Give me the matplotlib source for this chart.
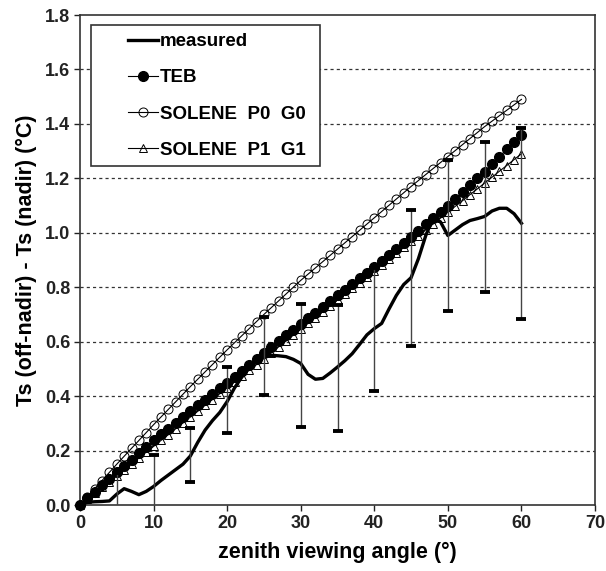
import matplotlib
matplotlib.use("Agg")
import matplotlib.pyplot as plt
from matplotlib.patches import Rectangle
import numpy as np

plt.rcParams['font.family'] = ['Liberation Sans', 'DejaVu Sans']
plt.rcParams['font.weight'] = 'bold'

angles = list(range(0, 61))

measured = [0.0, 0.01, 0.012, 0.013, 0.015, 0.04, 0.06, 0.05, 0.038, 0.05,
            0.068, 0.09, 0.11, 0.13, 0.15, 0.18, 0.23, 0.275, 0.31, 0.34,
            0.38, 0.43, 0.47, 0.505, 0.53, 0.545, 0.55, 0.548, 0.545, 0.535,
            0.52, 0.48, 0.462, 0.465, 0.485, 0.507, 0.53, 0.556, 0.59, 0.625,
            0.648, 0.667, 0.72, 0.77, 0.81, 0.835, 0.905, 0.99, 1.055, 1.04,
            0.99, 1.01, 1.03, 1.045, 1.052, 1.06, 1.08, 1.09, 1.09, 1.07,
            1.035]

teb = [0.0, 0.024, 0.048, 0.072, 0.096, 0.12, 0.143, 0.167, 0.19, 0.214,
       0.237, 0.259, 0.28, 0.302, 0.323, 0.345, 0.366, 0.387, 0.408, 0.429,
       0.45, 0.472, 0.494, 0.516, 0.538, 0.56, 0.581, 0.602, 0.623, 0.644,
       0.665, 0.686, 0.707, 0.728, 0.749, 0.77, 0.791, 0.812, 0.833, 0.854,
       0.875, 0.897, 0.919, 0.941, 0.963, 0.985, 1.008, 1.031, 1.054, 1.077,
       1.10, 1.125, 1.15, 1.175, 1.20, 1.225, 1.252, 1.279, 1.306, 1.333,
       1.36]

solene_p0 = [0.0, 0.03, 0.06, 0.09, 0.12, 0.15, 0.179, 0.208, 0.237, 0.266,
             0.295, 0.323, 0.351, 0.379, 0.407, 0.435, 0.462, 0.489, 0.516, 0.543,
             0.57, 0.596, 0.622, 0.648, 0.674, 0.70, 0.725, 0.75, 0.775, 0.80,
             0.825, 0.848, 0.871, 0.894, 0.917, 0.94, 0.963, 0.986, 1.009, 1.032,
             1.055, 1.078, 1.101, 1.124, 1.147, 1.17, 1.192, 1.214, 1.236, 1.258,
             1.28, 1.302, 1.324, 1.346, 1.368, 1.39, 1.41, 1.43, 1.45, 1.47,
             1.49]

solene_p1 = [0.0, 0.022, 0.043, 0.065, 0.086, 0.108, 0.129, 0.151, 0.172, 0.194,
             0.215, 0.237, 0.258, 0.28, 0.301, 0.323, 0.344, 0.366, 0.387, 0.409,
             0.43, 0.452, 0.473, 0.495, 0.516, 0.538, 0.559, 0.581, 0.602, 0.624,
             0.645, 0.667, 0.688, 0.71, 0.731, 0.753, 0.774, 0.796, 0.817, 0.839,
             0.86, 0.882, 0.903, 0.925, 0.946, 0.968, 0.989, 1.011, 1.032, 1.054,
             1.075, 1.097, 1.118, 1.14, 1.161, 1.183, 1.204, 1.226, 1.247, 1.269,
             1.29]

err_angles = [5, 10, 15, 20, 25, 30, 35, 40, 45, 50, 55, 60]
err_low = [-0.05, -0.05, 0.083, 0.263, 0.404, 0.288, 0.272, 0.419, 0.585, 0.714, 0.783, 0.682]
err_high = [0.116, 0.184, 0.282, 0.508, 0.692, 0.738, 0.735, 0.87, 1.084, 1.268, 1.333, 1.386]

x_ticks = [0, 10, 20, 30, 40, 50, 60, 70]
y_ticks = [0.0, 0.2, 0.4, 0.6, 0.8, 1.0, 1.2, 1.4, 1.6, 1.8]
labels = ['measured', 'TEB', 'SOLENE  P0  G0', 'SOLENE  P1  G1']

W, H = 606, 571
fig = plt.figure(figsize=(W / 100, H / 100), dpi=100)
L, R, T, B = 80, 595, 15, 505
ax = fig.add_axes([L / W, 1 - B / H, (R - L) / W, (B - T) / H])

ax.set_xlim(0, 70)
ax.set_ylim(0, 1.8)

for yv in y_ticks[1:-1]:
    ax.axhline(yv, color='#333333', lw=0.9, ls=(0, (2.5, 2.5)), zorder=1)

l_meas, = ax.plot(angles, measured, color='black', lw=2.4, zorder=3,
                  solid_joinstyle='round', label=labels[0])
l_p0, = ax.plot(angles, solene_p0, color='black', lw=0.8, marker='o', ms=6.5,
                mfc='none', mec='black', mew=0.7, zorder=4, clip_on=False,
                label=labels[2])
l_p1, = ax.plot(angles, solene_p1, color='black', lw=0.8, marker='^', ms=5.5,
                mfc='none', mec='black', mew=0.7, zorder=4, clip_on=False,
                label=labels[3])
l_teb, = ax.plot(angles, teb, color='black', lw=0.8, marker='o', ms=7,
                 mfc='black', mec='black', zorder=5, clip_on=False,
                 label=labels[1])

ax.vlines(err_angles, err_low, err_high, color='#444444', lw=1.0, zorder=6)
ax.plot(err_angles, err_high, ls='none', marker='_', ms=7.5, mew=2.8,
        color='black', zorder=7)
ax.plot(err_angles, err_low, ls='none', marker='_', ms=7.5, mew=2.8,
        color='black', zorder=7)

ax.set_xticks(x_ticks)
ax.set_xticklabels([str(v) for v in x_ticks])
ax.set_yticks(y_ticks)
ax.set_yticklabels([f'{v:.1f}' for v in y_ticks])
ax.tick_params(direction='out', length=4, width=1, labelsize=13, colors='#222222', pad=3)
for s in ax.spines.values():
    s.set_linewidth(1.2)
    s.set_color('#333333')

ax.set_xlabel('zenith viewing angle (°)', fontsize=15.5, fontweight='bold', labelpad=7)
ax.set_ylabel('Ts (off-nadir) - Ts (nadir) (°C)', fontsize=15.5, fontweight='bold', labelpad=6)

# legend frame
fx0, fx1 = (91 - L) / (R - L), (320 - L) / (R - L)
fy0, fy1 = (B - 166) / (B - T), (B - 25) / (B - T)
ax.add_patch(Rectangle((fx0, fy0), fx1 - fx0, fy1 - fy0, transform=ax.transAxes,
                       fill=True, facecolor='white', edgecolor='#333333', lw=1.2, zorder=8))
leg = ax.legend([l_meas, l_teb, l_p0, l_p1], labels, loc='upper left',
                bbox_to_anchor=((128 - L) / (R - L), (B - 33) / (B - T)),
                frameon=False, borderpad=0, borderaxespad=0, numpoints=1,
                handlelength=1.6, handletextpad=0.1, labelspacing=1.02,
                prop={'size': 13.5, 'weight': 'bold'})
leg.set_zorder(9)

fig.savefig('out.png', dpi=100)
